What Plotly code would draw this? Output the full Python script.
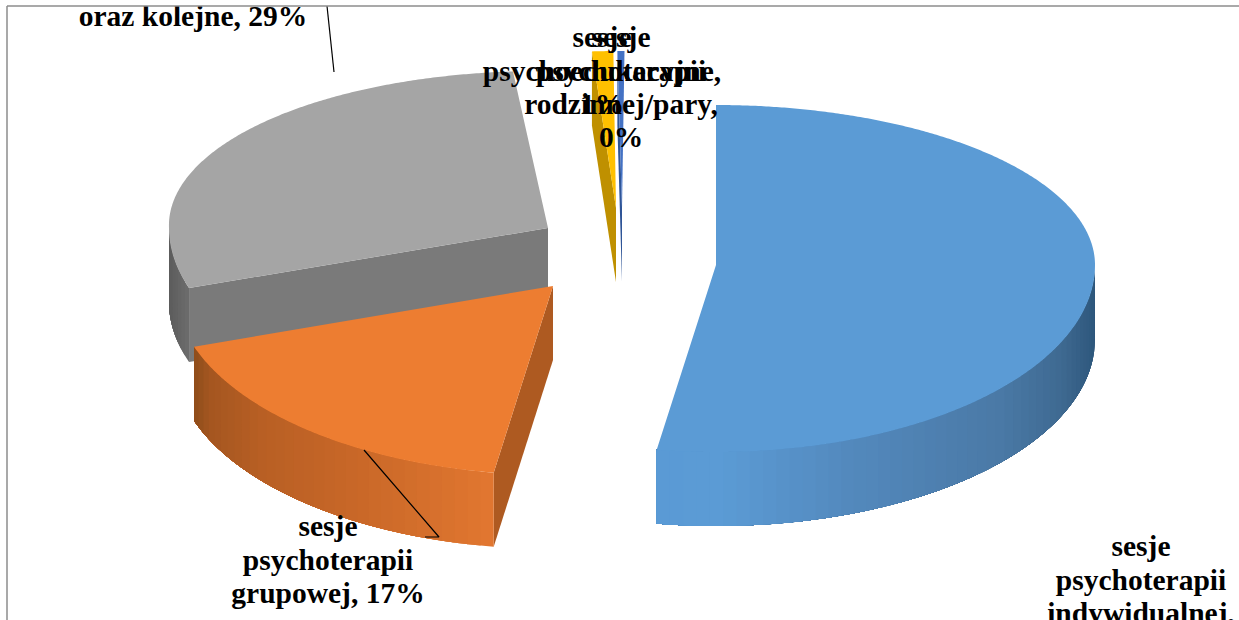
import math
import plotly.graph_objects as go

# ---- data ----
categories = ["indywidualnej", "grupowej", "kolejne", "psychoedukacyjne", "rodzinnej/pary"]
values = [52.5, 17.3, 29.0, 0.9, 0.3]
top_colors = ["#5b9bd5", "#ed7d31", "#a5a5a5", "#ffc000", "#4472c4"]
side_colors = ["#2e577c", "#ae5a21", "#7a7a7a", "#bf9000", "#2f5597"]
label_lines = [
    ["sesje", "psychoterapii", "indywidualnej,", "53%"],
    ["sesje", "psychoterapii", "grupowej, 17%"],
    ["oraz kolejne, 29%"],
    ["sesje", "psychoedukacyjne,", "1%"],
    ["sesje", "psychoterapii", "rodzinnej/pary,", "0%"],
]

# ---- projection of the exploded 3-D pie, in page pixels ----
RX, DEPTH = 379, 74
apex = [(716, 265), (553, 286), (548, 228), (616, 208), (622, 208)]
ry_back = [160, 157, 157, 157, 157]
ry_front = [187, 189, 187, 187, 187]
skew = [0, 0, -6.5, 4.5, 2.5]
label_pos = [(1141, 549), (328, 529), (193, 19), (602, 40), (621, 40)]
LINE_STEP = 33.3
FONT_SIZE = 29.5

edges = [0.0]
for v in values:
    edges.append(edges[-1] + v / sum(values) * 360)


def pt(i, phi, drop=0.0):
    c, s = math.cos(math.radians(phi)), math.sin(math.radians(phi))
    ax, ay = apex[i]
    if c > 0:
        return ax + RX * s + skew[i] * c, ay - ry_back[i] * c + drop
    return ax + RX * s, ay - ry_front[i] * c + drop


def arc(i, a, b, drop=0.0):
    n = max(2, int(abs(b - a) / 0.4) + 2)
    return [pt(i, a + (b - a) * k / (n - 1), drop) for k in range(n)]


def mix(stops, x):
    stops = sorted(stops)
    if x <= stops[0][0]:
        return stops[0][1]
    for (x0, c0), (x1, c1) in zip(stops, stops[1:]):
        if x <= x1:
            t = (x - x0) / (x1 - x0)
            rgb = [round(int(c0[j:j + 2], 16) * (1 - t) + int(c1[j:j + 2], 16) * t) for j in (1, 3, 5)]
            return "rgb(%d,%d,%d)" % tuple(rgb)
    return stops[-1][1]


fig = go.Figure()


def poly(points, color):
    xs = [p[0] for p in points] + [points[0][0]]
    ys = [p[1] for p in points] + [points[0][1]]
    fig.add_trace(go.Scatter(x=xs, y=ys, mode="lines", fill="toself", fillcolor=color,
                             line=dict(width=0, simplify=False), hoverinfo="skip", showlegend=False))


def wall(i, a, b, stops, step=2.0):
    # painted far-to-near: every band reaches to the end of the arc, so later
    # bands overpaint it and no seam shows between neighbours
    n = max(1, int(abs(b - a) / step))
    for k in range(n):
        p0 = a + (b - a) * k / n
        p1 = a + (b - a) * (k + 1) / n
        upper = arc(i, p0, b)
        lower = arc(i, p0, b, DEPTH)
        poly(upper + lower[::-1], mix(stops, (pt(i, p0)[0] + pt(i, p1)[0]) / 2))


def top(i):
    poly([apex[i]] + arc(i, edges[i], edges[i + 1]), top_colors[i])


def radial_wall(i, phi):
    a, b = apex[i], pt(i, phi)
    poly([a, b, (b[0], b[1] + DEPTH), (a[0], a[1] + DEPTH)], side_colors[i])


# gray
radial_wall(2, edges[2])
wall(2, edges[2], 270, [(170, "#5c5c5c"), (190, "#6e6e6e")], 2.0)
top(2)
# thin slices
for i in (3, 4):
    radial_wall(i, edges[i])
    top(i)
# blue
wall(0, 90, edges[1], [(657, "#5a9ad5"), (720, "#5b9bd5"), (850, "#5389bd"),
                       (1000, "#4a79a6"), (1060, "#3f6a92"), (1095, "#2e577c")])
top(0)
# orange
radial_wall(1, edges[1])
wall(1, edges[1], edges[2], [(195, "#8f4d1b"), (210, "#a45620"), (260, "#b85f24"),
                             (360, "#c96828"), (494, "#e27730")])
top(1)

# leader lines
for xs, ys in [([327, 334], [6, 72]), ([364, 439, 425], [450, 537, 537])]:
    fig.add_trace(go.Scatter(x=xs, y=ys, mode="lines", line=dict(color="black", width=1.2),
                             hoverinfo="skip", showlegend=False))

# labels (clipped by the plot area like the original chart object)
for lines, (lx, ly) in zip(label_lines, label_pos):
    fig.add_trace(go.Scatter(x=[lx] * len(lines), y=[ly + k * LINE_STEP for k in range(len(lines))],
                             mode="text", text=["<b>" + t + "</b>" for t in lines],
                             textposition="middle center",
                             textfont=dict(family="Liberation Serif", size=FONT_SIZE, color="black"),
                             hoverinfo="skip", showlegend=False))

fx, fy = 7 / 1239, 1 - 6 / 620
fig.update_layout(
    width=1239, height=620, margin=dict(l=0, r=0, t=0, b=0),
    paper_bgcolor="white", plot_bgcolor="white", showlegend=False,
    xaxis=dict(visible=False, range=[7, 1239], domain=[fx, 1], fixedrange=True),
    yaxis=dict(visible=False, range=[620, 6], domain=[0, fy], fixedrange=True),
    shapes=[
        dict(type="line", xref="paper", yref="paper", x0=fx, x1=1, y0=fy, y1=fy,
             line=dict(color="#8c8c8c", width=1.5)),
        dict(type="line", xref="paper", yref="paper", x0=fx, x1=fx, y0=0, y1=fy,
             line=dict(color="#8c8c8c", width=1.5)),
    ],
)

fig.write_html("out.html", config=dict(displayModeBar=False),
               post_script="document.body.style.margin='0';document.body.style.overflow='hidden';")
